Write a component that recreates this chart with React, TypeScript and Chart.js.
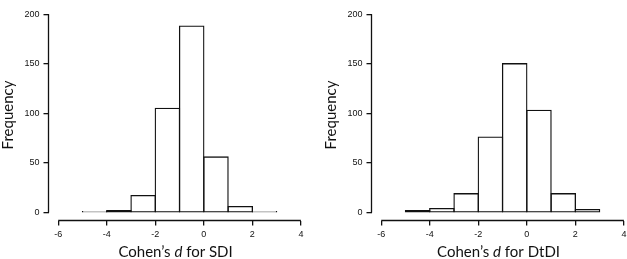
import React, { useEffect, useRef } from "react";
import { Chart, registerables } from "chart.js";

Chart.register(...registerables);

// ---- data ----
const binStarts = [-5, -4, -3, -2, -1, 0, 1, 2];
const binWidth = 1;
const sdiCounts = [1, 2, 17, 105, 188, 56, 6, 1];
const dtdiCounts = [2, 4, 19, 76, 150, 103, 19, 3];
const xTicks = [-6, -4, -2, 0, 2, 4];
const yTicks = [0, 50, 100, 150, 200];
const xRange = [-6.4, 4.4];
const yRange = [-8, 204.8];
const yTitle = "Frequency";
const sdiTitle = ["Cohen’s ", "d", " for SDI"];
const dtdiTitle = ["Cohen’s ", "d", " for DtDI"];

const INK = "#111111";
const TITLE_FONT = "Lato";
const TICK_FONT = "'Liberation Sans', Arial, sans-serif";
const LINE_W = 1.3;

const W = 323;
const H = 259;

function makeAxesPlugin(titleParts: string[]) {
  return {
    id: "rAxes",
    afterDraw(chart: any) {
      const { ctx, chartArea } = chart;
      const xs = chart.scales.x;
      const ys = chart.scales.y;
      ctx.save();
      ctx.strokeStyle = INK;
      ctx.lineWidth = LINE_W;
      // x axis line spanning first..last tick
      ctx.beginPath();
      const xb = chartArea.bottom;
      ctx.moveTo(xs.getPixelForValue(xTicks[0]), xb);
      ctx.lineTo(xs.getPixelForValue(xTicks[xTicks.length - 1]), xb);
      ctx.stroke();
      // y axis line spanning first..last tick
      ctx.beginPath();
      const yl = chartArea.left;
      ctx.moveTo(yl, ys.getPixelForValue(yTicks[0]));
      ctx.lineTo(yl, ys.getPixelForValue(yTicks[yTicks.length - 1]));
      ctx.stroke();

      // x title with italic part
      const size = 15;
      const normal = `normal ${size}px ${TITLE_FONT}`;
      const italic = `italic ${size}px ${TITLE_FONT}`;
      const fonts = [normal, italic, normal];
      let total = 0;
      const widths = titleParts.map((t, i) => {
        ctx.font = fonts[i];
        const w = ctx.measureText(t).width;
        total += w;
        return w;
      });
      const cx = (chartArea.left + chartArea.right) / 2 - 4;
      let x = cx - total / 2;
      ctx.fillStyle = "#111";
      ctx.textBaseline = "alphabetic";
      ctx.textAlign = "left";
      titleParts.forEach((t, i) => {
        ctx.font = fonts[i];
        ctx.fillText(t, x, 257);
        x += widths[i];
      });
      ctx.restore();
    },
  };
}

function Panel({ counts, title, left }: { counts: number[]; title: string[]; left: number }) {
  const ref = useRef<HTMLCanvasElement | null>(null);
  useEffect(() => {
    if (!ref.current) return;
    const data = binStarts.map((s, i) => ({ x: s + binWidth / 2, y: counts[i] }));
    const chart = new Chart(ref.current, {
      type: "bar",
      data: {
        datasets: [
          {
            data,
            backgroundColor: "rgba(255,255,255,0)",
            borderColor: INK,
            borderWidth: 0.01,
            inflateAmount: LINE_W / 2,
            borderSkipped: false,
            barPercentage: 1,
            categoryPercentage: 1,
          } as any,
        ],
      },
      options: {
        responsive: false,
        animation: false,
        devicePixelRatio: 1,
        layout: { padding: { left: 0, right: 12.4, top: 0, bottom: 0 } },
        plugins: { legend: { display: false }, tooltip: { enabled: false } },
        scales: {
          x: {
            type: "linear",
            offset: false,
            min: xRange[0],
            max: xRange[1],
            afterBuildTicks: (scale: any) => {
              scale.ticks = xTicks.map((v) => ({ value: v }));
            },
            afterFit: (scale: any) => {
              scale.height = 38.5;
            },
            border: { display: false },
            grid: {
              display: true,
              offset: false,
              drawOnChartArea: false,
              drawTicks: true,
              tickLength: 5,
              color: INK,
              lineWidth: LINE_W,
            },
            ticks: {
              autoSkip: false,
              maxRotation: 0,
              padding: 4,
              color: "#111",
              font: { family: TICK_FONT, size: 9 },
              callback: (v: any) => String(v),
            },
          },
          y: {
            type: "linear",
            min: yRange[0],
            max: yRange[1],
            afterBuildTicks: (scale: any) => {
              scale.ticks = yTicks.map((v) => ({ value: v }));
            },
            afterFit: (scale: any) => {
              scale.width = 48.5;
            },
            border: { display: false },
            grid: {
              display: true,
              drawOnChartArea: false,
              drawTicks: true,
              tickLength: 5,
              color: INK,
              lineWidth: LINE_W,
            },
            ticks: {
              autoSkip: false,
              padding: 4,
              color: "#111",
              font: { family: TICK_FONT, size: 9 },
              callback: (v: any) => String(v),
            },
            title: {
              display: true,
              text: yTitle,
              color: "#111",
              font: { family: TITLE_FONT, size: 15, lineHeight: 1 },
              padding: { top: 0.5, bottom: 0 },
            },
          },
        },
      },
      plugins: [makeAxesPlugin(title)],
    });
    return () => chart.destroy();
  }, [counts, title]);
  return (
    <canvas
      ref={ref}
      width={W}
      height={H}
      style={{ position: "absolute", left, top: 0, width: W, height: H }}
    />
  );
}

export default function App() {
  return (
    <div
      style={{
        position: "absolute",
        left: 0,
        top: 0,
        width: 627,
        height: 259,
        overflow: "hidden",
        background: "#fff",
      }}
    >
      <Panel counts={sdiCounts} title={sdiTitle} left={0} />
      <Panel counts={dtdiCounts} title={dtdiTitle} left={323} />
    </div>
  );
}
